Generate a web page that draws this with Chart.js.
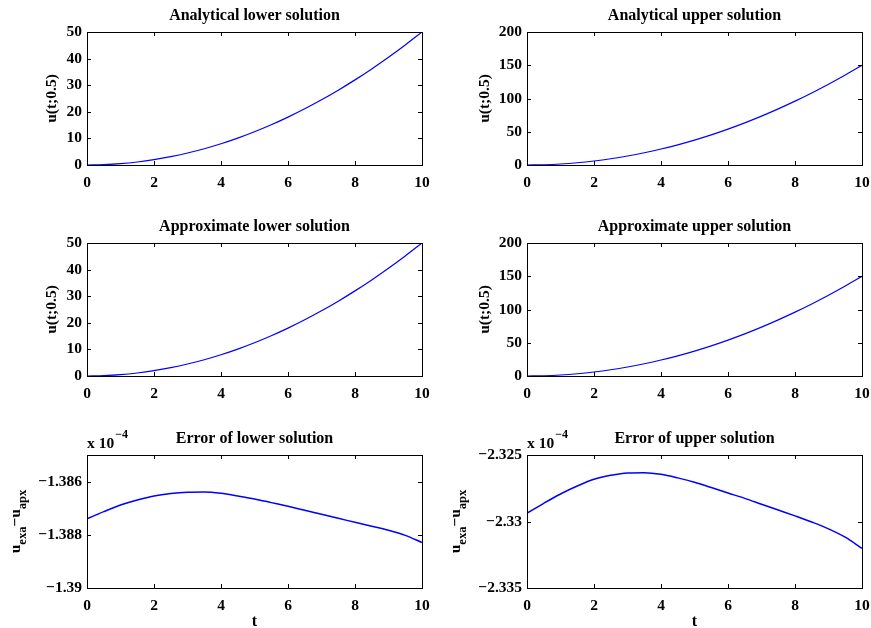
<!DOCTYPE html>
<html>
<head>
<meta charset="utf-8">
<script src="https://cdn.jsdelivr.net/npm/chart.js@4"></script>
<style>
  body { margin: 0; background: #fff; }
  #wrap { position: relative; width: 871px; height: 628px; }
  canvas { position: absolute; }
</style>
</head>
<body>
<div id="wrap">
  <canvas id="c1" width="435" height="205" style="left:0;top:0"></canvas>
  <canvas id="c2" width="431" height="205" style="left:440px;top:0"></canvas>
  <canvas id="c3" width="435" height="205" style="left:0;top:205px"></canvas>
  <canvas id="c4" width="431" height="205" style="left:440px;top:205px"></canvas>
  <canvas id="c5" width="435" height="218" style="left:0;top:410px"></canvas>
  <canvas id="c6" width="431" height="218" style="left:440px;top:410px"></canvas>
</div>
<script>
// time grid
const tValues = [0, 0.5, 1, 1.5, 2, 2.5, 3, 3.5, 4, 4.5, 5, 5.5, 6, 6.5, 7, 7.5, 8, 8.5, 9, 9.5, 10];

// u(t;0.5), lower and upper solutions
const lowerExact = [0, 0.125, 0.5, 1.125, 2, 3.125, 4.5, 6.125, 8, 10.125, 12.5, 15.125, 18, 21.125, 24.5, 28.125, 32, 36.125, 40.5, 45.125, 50];
const upperExact = [0, 0.375, 1.5, 3.375, 6, 9.375, 13.5, 18.375, 24, 30.375, 37.5, 45.375, 54, 63.375, 73.5, 84.375, 96, 108.375, 121.5, 135.375, 150];
const lowerApprox = [0, 0.125, 0.5, 1.125, 2, 3.125, 4.5, 6.125, 8, 10.125, 12.5, 15.125, 18, 21.125, 24.5, 28.125, 32, 36.125, 40.5, 45.125, 50];
const upperApprox = [0, 0.375, 1.5, 3.375, 6, 9.375, 13.5, 18.375, 24, 30.375, 37.5, 45.375, 54, 63.375, 73.5, 84.375, 96, 108.375, 121.5, 135.375, 150];

// errors, in units of 1e-4
const lowerError = [-1.3874, -1.38713, -1.38688, -1.38669, -1.38654, -1.38645, -1.3864, -1.38639, -1.38644, -1.38654, -1.38665,
  -1.38679, -1.38693, -1.38708, -1.38723, -1.38738, -1.38753, -1.38768, -1.38783, -1.38802, -1.38829];
const upperError = [-2.329375, -2.32863, -2.32793, -2.32733, -2.32683, -2.32653, -2.32635, -2.32633, -2.32645, -2.32672, -2.32705,
  -2.32745, -2.32786, -2.32826, -2.3287, -2.32914, -2.32958, -2.33004, -2.33055, -2.33118, -2.33202];

// tick labels
const xTicks = [0, 2, 4, 6, 8, 10];
const lowerTicks = [0, 10, 20, 30, 40, 50];
const upperTicks = [0, 50, 100, 150, 200];
const lowerErrTicks = [-1.39, -1.388, -1.386];
const upperErrTicks = [-2.335, -2.33, -2.325];

const FONT = '"Liberation Serif", "Times New Roman", serif';
const fontStr = (size) => 'bold ' + size + 'px ' + FONT;

// draws the matlab-ish box, inward ticks, title and axis labels
const matlabFrame = {
  id: 'matlabFrame',
  afterDatasetsDraw(chart, args, o) {
    const {ctx, chartArea: a, scales: {x, y}} = chart;
    ctx.save();
    ctx.strokeStyle = '#000';
    ctx.lineWidth = 1;
    ctx.strokeRect(a.left + 0.5, a.top + 0.5, a.right - a.left, a.bottom - a.top);
    ctx.beginPath();
    x.ticks.forEach(t => {
      const px = Math.round(x.getPixelForValue(t.value)) + 0.5;
      ctx.moveTo(px, a.bottom); ctx.lineTo(px, a.bottom - 4);
      ctx.moveTo(px, a.top); ctx.lineTo(px, a.top + 4);
    });
    y.ticks.forEach(t => {
      const py = Math.round(y.getPixelForValue(t.value)) + 0.5;
      ctx.moveTo(a.left, py); ctx.lineTo(a.left + 4, py);
      ctx.moveTo(a.right, py); ctx.lineTo(a.right - 4, py);
    });
    ctx.stroke();

    ctx.fillStyle = '#000';
    ctx.textAlign = 'center';
    ctx.textBaseline = 'alphabetic';
    ctx.font = fontStr(16);
    ctx.fillText(o.title, (a.left + a.right) / 2, a.top - 12);

    if (o.xLabel) {
      ctx.fillText(o.xLabel, (a.left + a.right) / 2, o.xLabelY);
    }

    if (o.exponent) {
      ctx.textAlign = 'left';
      ctx.font = fontStr(15.5);
      ctx.fillText('x 10', a.left, a.top - 7.5);
      const w = ctx.measureText('x 10').width;
      ctx.font = fontStr(12);
      ctx.fillText(o.exponent, a.left + w + 1, a.top - 17);
    }

    // rotated y label, parts may be subscripts
    ctx.translate(o.yLabelX, (a.top + a.bottom) / 2);
    ctx.rotate(-Math.PI / 2);
    ctx.textAlign = 'left';
    let total = 0;
    o.yLabel.forEach(p => {
      ctx.font = fontStr(p.sub ? 12.5 : 15.5);
      p.w = ctx.measureText(p.text).width;
      total += p.w;
    });
    let pos = -total / 2;
    o.yLabel.forEach(p => {
      ctx.font = fontStr(p.sub ? 12.5 : 15.5);
      ctx.fillText(p.text, pos, p.sub ? 6 : 0);
      pos += p.w;
    });
    ctx.restore();
  }
};

const fmt = (v) => String(v).replace('-', '\u2212');

function makePlot(id, ys, yMin, yMax, yTicks, o) {
  new Chart(document.getElementById(id), {
    type: 'line',
    data: {
      datasets: [{
        data: tValues.map((t, i) => ({x: t, y: ys[i]})),
        borderColor: '#0000ff',
        borderWidth: o.lineWidth || 1.2,
        pointRadius: 0,
        cubicInterpolationMode: 'monotone',
        fill: false
      }]
    },
    options: {
      responsive: false,
      animation: false,
      devicePixelRatio: 1,
      layout: {padding: {left: 0, top: o.top, right: o.right, bottom: 0}},
      plugins: {
        legend: {display: false},
        tooltip: {enabled: false},
        matlabFrame: o
      },
      scales: {
        x: {
          type: 'linear', min: 0, max: 10,
          afterBuildTicks: s => { s.ticks = xTicks.map(v => ({value: v})); },
          afterFit: s => { s.height = o.bottom; s.paddingLeft = 0; s.paddingRight = 0; },
          grid: {display: false, drawTicks: false},
          border: {display: false},
          ticks: {color: '#000', font: {family: FONT, size: 15.5, weight: 'bold'}, padding: 9, maxRotation: 0, autoSkip: false}
        },
        y: {
          type: 'linear', min: yMin, max: yMax,
          afterBuildTicks: s => { s.ticks = yTicks.map(v => ({value: v})); },
          afterFit: s => { s.width = 87; s.paddingTop = 0; s.paddingBottom = 0; },
          grid: {display: false, drawTicks: false},
          border: {display: false},
          ticks: {color: '#000', font: {family: FONT, size: 15.5, weight: 'bold'}, padding: 5, autoSkip: false, callback: fmt}
        }
      }
    },
    plugins: [matlabFrame]
  });
}

const uLabel = [{text: 'u(t;0.5)'}];
const errLabel = [{text: 'u'}, {text: 'exa', sub: true}, {text: '\u2212u'}, {text: 'apx', sub: true}];

makePlot('c1', lowerExact, 0, 50, lowerTicks, {top: 32, right: 13, bottom: 40, title: 'Analytical lower solution', yLabel: uLabel, yLabelX: 55.5});
makePlot('c2', upperExact, 0, 200, upperTicks, {top: 32, right: 9, bottom: 40, title: 'Analytical upper solution', yLabel: uLabel, yLabelX: 49});
makePlot('c3', lowerApprox, 0, 50, lowerTicks, {top: 38, right: 13, bottom: 34, title: 'Approximate lower solution', yLabel: uLabel, yLabelX: 55.5});
makePlot('c4', upperApprox, 0, 200, upperTicks, {top: 38, right: 9, bottom: 34, title: 'Approximate upper solution', yLabel: uLabel, yLabelX: 49});
makePlot('c5', lowerError, -1.39, -1.385, lowerErrTicks, {top: 45, right: 13, bottom: 40, title: 'Error of lower solution', yLabel: errLabel, yLabelX: 19.5, exponent: '\u22124', xLabel: 't', xLabelY: 216, lineWidth: 1.5});
makePlot('c6', upperError, -2.335, -2.325, upperErrTicks, {top: 45, right: 9, bottom: 40, title: 'Error of upper solution', yLabel: errLabel, yLabelX: 19.5, exponent: '\u22124', xLabel: 't', xLabelY: 216, lineWidth: 1.5});
</script>
</body>
</html>
